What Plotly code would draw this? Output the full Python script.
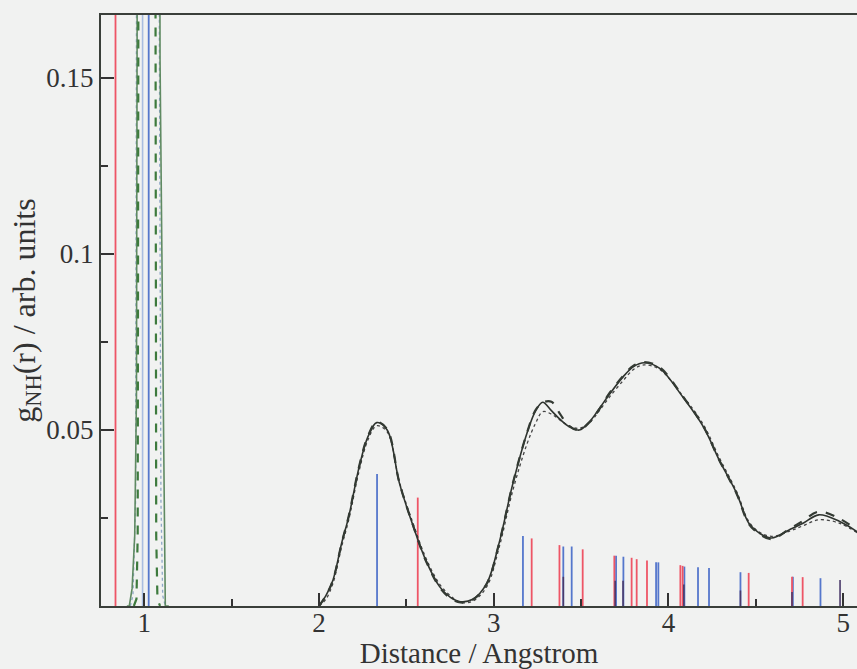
import plotly.graph_objects as go

# ---- data -------------------------------------------------------------
# first coordination shell (N-H bond), very sharp peak, runs off the chart
r_shell1_solid = [0.90, 0.914, 0.93, 0.945, 0.955, 0.96, 1.00, 1.04, 1.08, 1.09, 1.114, 1.12, 1.14]
g_shell1_solid = [0.0, 0.0, 0.005, 0.02, 0.06, 0.20, 0.90, 1.00, 0.40, 0.155, 0.03, 0.0, 0.0]

r_shell1_dashed = [0.94, 0.955, 0.962, 0.968, 1.00, 1.03, 1.062, 1.068, 1.075, 1.09]
g_shell1_dashed = [0.0, 0.002, 0.02, 0.25, 1.00, 1.00, 0.25, 0.02, 0.002, 0.0]

r_shell1_dotted = [0.92, 0.935, 0.95, 0.958, 1.00, 1.04, 1.08, 1.095, 1.105, 1.12]
g_shell1_dotted = [0.0, 0.003, 0.03, 0.25, 0.95, 0.95, 0.25, 0.03, 0.003, 0.0]

# outer shells
r_outer = [2.00, 2.04, 2.08, 2.13, 2.17, 2.23, 2.28, 2.33, 2.39, 2.46, 2.54, 2.61, 2.69,
           2.75, 2.81, 2.88, 2.96, 3.03, 3.11, 3.19, 3.24, 3.28, 3.33, 3.38, 3.43, 3.49,
           3.55, 3.60, 3.66, 3.74, 3.80, 3.86, 3.95, 4.08, 4.20, 4.29, 4.39, 4.46, 4.52,
           4.59, 4.69, 4.77, 4.86, 4.98, 5.08]
g_solid = [0.0, 0.003, 0.0074, 0.018, 0.0254, 0.0396, 0.0481, 0.0521, 0.0500, 0.0349, 0.0225,
           0.0131, 0.0055, 0.0025, 0.0012, 0.0019, 0.0064, 0.0178, 0.0349, 0.0491, 0.0555,
           0.0579, 0.0555, 0.0530, 0.0510, 0.0500, 0.0525, 0.0558, 0.0600, 0.0651, 0.0680,
           0.0691, 0.0675, 0.0595, 0.0509, 0.0415, 0.0320, 0.0235, 0.0207, 0.0193, 0.0216,
           0.0235, 0.0259, 0.0240, 0.0211]
g_dashed = [0.0, 0.003, 0.0074, 0.018, 0.0256, 0.0398, 0.0483, 0.0523, 0.0502, 0.0350, 0.0226,
            0.0130, 0.0053, 0.0023, 0.0010, 0.0018, 0.0063, 0.0177, 0.0350, 0.0492, 0.0557,
            0.0578, 0.0580, 0.0545, 0.0512, 0.0500, 0.0523, 0.0556, 0.0603, 0.0653, 0.0683,
            0.0693, 0.0678, 0.0597, 0.0510, 0.0415, 0.0319, 0.0233, 0.0205, 0.0190, 0.0218,
            0.0242, 0.0268, 0.0248, 0.0215]
g_dotted = [0.0, 0.002, 0.0065, 0.017, 0.0245, 0.0385, 0.0472, 0.0512, 0.0495, 0.0352, 0.0232,
            0.0138, 0.0062, 0.0030, 0.0010, 0.0014, 0.0055, 0.0165, 0.0330, 0.0460, 0.0520,
            0.0552, 0.0545, 0.0528, 0.0512, 0.0505, 0.0522, 0.0552, 0.0592, 0.0640, 0.0672,
            0.0685, 0.0672, 0.0598, 0.0515, 0.0422, 0.0325, 0.0240, 0.0210, 0.0198, 0.0212,
            0.0228, 0.0245, 0.0235, 0.0208]

# crystal-structure distance sticks
red_r = [0.835, 2.565, 3.217, 3.376, 3.509, 3.690, 3.789, 3.818, 3.877, 4.068, 4.081,
         4.459, 4.707, 4.768]
red_h = [0.30, 0.0308, 0.0192, 0.0173, 0.0161, 0.0143, 0.0137, 0.0133, 0.0129, 0.0116,
         0.0114, 0.0094, 0.0083, 0.0082]
blue_r = [1.025, 2.332, 3.167, 3.398, 3.446, 3.700, 3.742, 3.929, 3.942, 4.091, 4.169,
          4.232, 4.412, 4.712, 4.870]
blue_h = [0.30, 0.0375, 0.0199, 0.0169, 0.0169, 0.0143, 0.0140, 0.0124, 0.0124,
          0.0112, 0.0110, 0.0108, 0.0096, 0.0083, 0.0079]
light_r = [0.99]
light_h = [0.30]
dark_r = [3.398, 3.695, 3.740, 4.088, 4.412, 4.707, 4.982]
dark_h = [0.0083, 0.0072, 0.0072, 0.0061, 0.0044, 0.0040, 0.0074]

x_title = "Distance / Angstrom"
y_title = "g<sub>NH</sub>(r) / arb. units"


def sticks(rs, hs):
    xs, ys = [], []
    for r, h in zip(rs, hs):
        xs += [r, r, None]
        ys += [0, h, None]
    return xs, ys


fig = go.Figure()

for rs, hs, col, w in [(light_r, light_h, "#a9bde0", 1.6),
                       (blue_r, blue_h, "#5577cc", 1.8),
                       (red_r, red_h, "#ee5566", 1.8),
                       (dark_r, dark_h, "#4a3a6a", 1.6)]:
    xs, ys = sticks(rs, hs)
    fig.add_trace(go.Scatter(x=xs, y=ys, mode="lines", line=dict(color=col, width=w),
                             hoverinfo="skip", showlegend=False))

# curves
fig.add_trace(go.Scatter(x=r_shell1_dotted, y=g_shell1_dotted, mode="lines",
                         line=dict(color="#8fa8c8", width=1.3, dash="dot"), showlegend=False))
fig.add_trace(go.Scatter(x=r_shell1_solid, y=g_shell1_solid, mode="lines",
                         line=dict(color="#5f8a62", width=1.6), showlegend=False))
fig.add_trace(go.Scatter(x=r_shell1_dashed, y=g_shell1_dashed, mode="lines",
                         line=dict(color="#3d7a3d", width=2.2, dash="dash"), showlegend=False))

fig.add_trace(go.Scatter(x=r_outer, y=g_dotted, mode="lines", line_shape="spline",
                         line=dict(color="#444444", width=1.3, dash="dot"), showlegend=False))
fig.add_trace(go.Scatter(x=r_outer, y=g_solid, mode="lines", line_shape="spline",
                         line=dict(color="#2e332e", width=1.6), showlegend=False))
fig.add_trace(go.Scatter(x=r_outer, y=g_dashed, mode="lines", line_shape="spline",
                         line=dict(color="#333a33", width=2.2, dash="dash"), showlegend=False))

axis_font = dict(family="Liberation Serif, Times New Roman, serif", size=27, color="#333333")
xtitle_font = dict(family="Liberation Serif, Times New Roman, serif", size=29, color="#333333")
ytitle_font = dict(family="Liberation Serif, Times New Roman, serif", size=32, color="#333333")

fig.update_layout(
    width=857, height=669,
    margin=dict(l=101, r=0, t=15, b=63),
    paper_bgcolor="#f1f2f1", plot_bgcolor="#f1f2f1",
    xaxis=dict(range=[0.752, 5.079], dtick=1, tick0=0, ticks="inside", ticklen=13,
               tickwidth=1.5, tickcolor="#333333", automargin=False, ticklabelstandoff=-8,
               minor=dict(ticks="inside", ticklen=7, dtick=0.5, tick0=0, tickcolor="#333333",
                          tickwidth=1.5),
               showline=True, linecolor="#3a3f3a", linewidth=2, mirror=True,
               showgrid=False, zeroline=False, tickfont=axis_font,
               title=dict(text=x_title, font=xtitle_font, standoff=1)),
    yaxis=dict(range=[0, 0.1679], dtick=0.05, tick0=0, ticks="inside", ticklen=13,
               tickwidth=1.5, tickcolor="#333333", labelalias={"0": ""}, automargin=False,
               minor=dict(ticks="inside", ticklen=7, dtick=0.025, tick0=0,
                          tickcolor="#333333", tickwidth=1.5),
               showline=True, linecolor="#3a3f3a", linewidth=2,
               showgrid=False, zeroline=False, tickfont=axis_font,
               title=dict(text=y_title, font=ytitle_font, standoff=0)),
)

fig.write_html("out.html", config={"displayModeBar": False},
               post_script="document.body.style.margin='0';document.body.style.padding='0';")
